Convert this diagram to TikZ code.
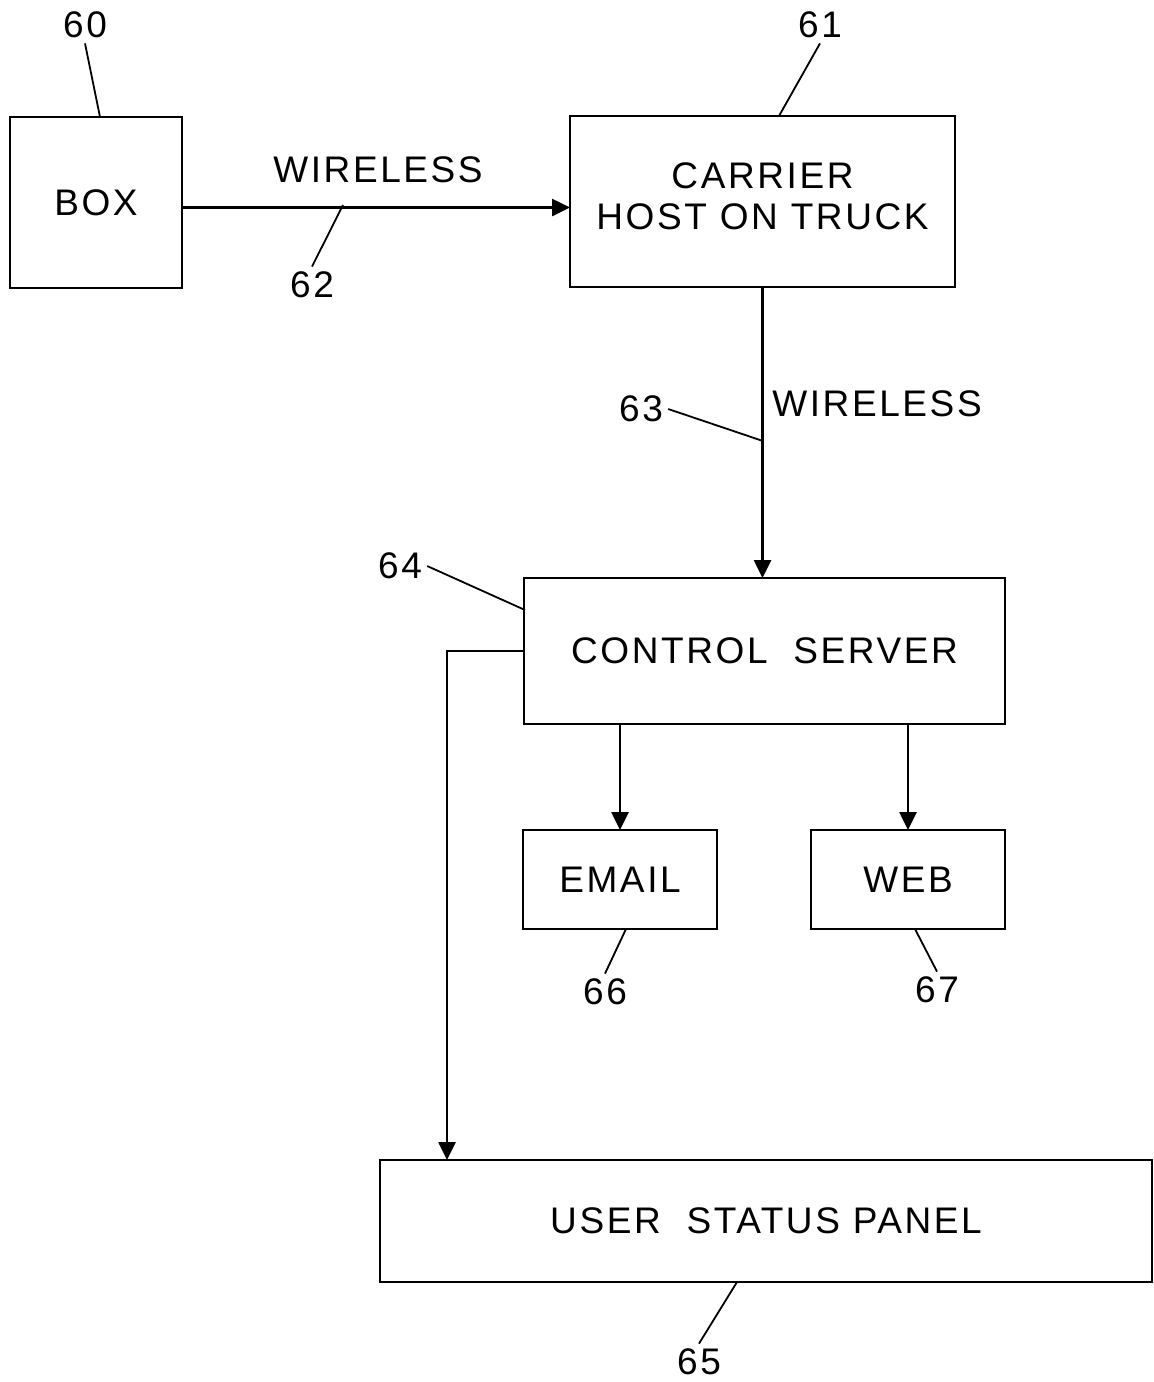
\documentclass[tikz,border=0pt]{standalone}
\usepackage{fontspec}
\setmainfont{Liberation Sans}[LetterSpace=7]
\usetikzlibrary{arrows.meta}
\begin{document}
\begin{tikzpicture}[x=0.5pt,y=-0.5pt,>={Triangle[length=9pt,width=8.5pt]},line width=1.3pt,
            every node/.style={font=\fontsize{18.5}{20.5}\selectfont},
            blk/.style={draw,inner sep=0pt,outer sep=0pt,align=center},
            num/.style={inner sep=2pt},
            lead/.style={line width=0.9pt}]
            \useasboundingbox (0,0) rectangle (1154,1382);
            % blocks
            \node[blk,minimum width=86pt,minimum height=85.5pt] (box) at (96,202.5) {BOX};
            \node[blk,minimum width=192.5pt,minimum height=85.5pt] (host) at (762.5,201.5) {CARRIER\\HOST ON TRUCK\\[-15pt]};
            \node[blk,minimum width=240.5pt,minimum height=73pt] (server) at (764.5,651) {CONTROL\ \ SERVER};
            \node[blk,minimum width=97pt,minimum height=49.5pt] (email) at (620,879.5) {EMAIL};
            \node[blk,minimum width=97pt,minimum height=49.5pt] (web) at (908,879.5) {WEB};
            \node[blk,minimum width=386pt,minimum height=61pt] (panel) at (766,1221) {USER\ \ STATUS PANEL};
            % links
            \draw[->] ([yshift=-2.5]box.east) -- ([yshift=-2.5]box.east -| host.west);
            \draw[->] (host.south) -- (host.south |- server.north);
            \draw[->] (email.north |- server.south) -- (email.north);
            \draw[->] (web.north |- server.south) -- (web.north);
            \draw[->] (server.west) -- ++(-77,0) coordinate (turn) -- (turn |- panel.north);
            \node (w1) at (378,170) {WIRELESS};
            \node (w2) at (877,404) {WIRELESS};
            % reference numbers
            \foreach \n/\x/\y in {60/85/25,61/820/25,62/312/285,63/641/409,64/400/566,65/699/1362,66/605/992,67/937/990}
                \node[num] (l\n) at (\x,\y) {\n};
            \coordinate (p60) at (100,117);
            \coordinate (p61) at (779,116);
            \coordinate (p62) at (343,205);
            \coordinate (p63) at (763,441);
            \coordinate (p64) at (525,610);
            \coordinate (p65) at (737,1282);
            \coordinate (p66) at (626,929);
            \coordinate (p67) at (915,929);
            \foreach \n/\a in {60/south,61/south,62/north,63/east,64/east,65/north,66/north,67/north}
                \draw[lead] (l\n.\a) -- (p\n);
        \end{tikzpicture}
\end{document}
